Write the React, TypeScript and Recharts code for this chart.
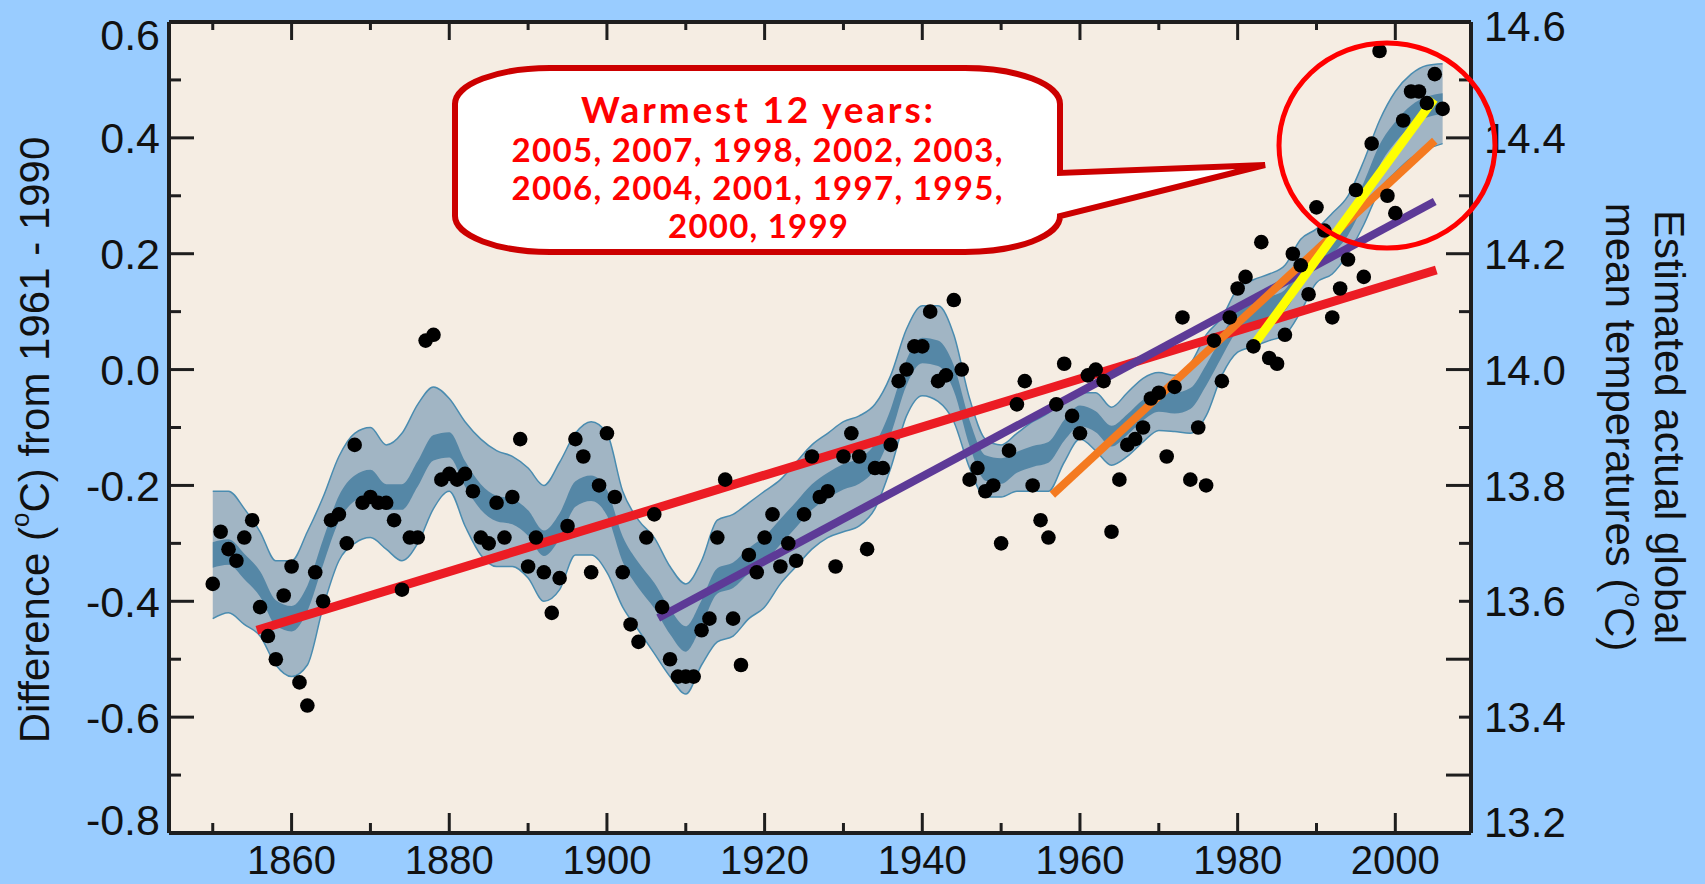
import React from "react";
import { ComposedChart, XAxis, YAxis, CartesianGrid, Scatter, Line, Area } from "recharts";

const WIDTH = 1705;
const HEIGHT = 884;
const PLOT_LEFT = 169;
const PLOT_RIGHT = 1471;
const PLOT_TOP = 22;
const PLOT_BOTTOM = 833;

// annual global mean anomalies, one value per year from 1850
const FIRST_YEAR = 1850;
const anomalies = [
  -0.37, -0.28, -0.31, -0.33, -0.29, -0.26, -0.41, -0.46, -0.5, -0.39,
  -0.34, -0.54, -0.58, -0.35, -0.4, -0.26, -0.25, -0.3, -0.13, -0.23,
  -0.22, -0.23, -0.23, -0.26, -0.38, -0.29, -0.29, 0.05, 0.06, -0.19,
  -0.18, -0.19, -0.18, -0.21, -0.29, -0.3, -0.23, -0.29, -0.22, -0.12,
  -0.34, -0.29, -0.35, -0.42, -0.36, -0.27, -0.12, -0.15, -0.35, -0.2,
  -0.11, -0.22, -0.35, -0.44, -0.47, -0.29, -0.25, -0.41, -0.5, -0.53,
  -0.53, -0.53, -0.45, -0.43, -0.29, -0.19, -0.43, -0.51, -0.32, -0.35,
  -0.29, -0.25, -0.34, -0.3, -0.33, -0.25, -0.15, -0.22, -0.21, -0.34,
  -0.15, -0.11, -0.15, -0.31, -0.17, -0.17, -0.13, -0.02, 0.0, 0.04,
  0.04, 0.1, -0.02, -0.01, 0.12, 0.0, -0.19, -0.17, -0.21, -0.2,
  -0.3, -0.14, -0.06, -0.02, -0.2, -0.26, -0.29, -0.06, 0.01, -0.08,
  -0.11, -0.01, 0.0, -0.02, -0.28, -0.19, -0.13, -0.12, -0.1, -0.05,
  -0.04, -0.15, -0.03, 0.09, -0.19, -0.1, -0.2, 0.05, -0.02, 0.09,
  0.14, 0.16, 0.04, 0.22, 0.02, 0.01, 0.06, 0.2, 0.18, 0.13,
  0.28, 0.24, 0.09, 0.14, 0.19, 0.31, 0.16, 0.39, 0.55, 0.3,
  0.27, 0.43, 0.48, 0.48, 0.46, 0.51, 0.45,
];

// decadal smoothing envelopes, read every 2 years from 1850
const BAND_FIRST_YEAR = 1850;
const BAND_STEP = 2;
const outerHigh = [
  -0.21, -0.21, -0.24, -0.28, -0.33, -0.33, -0.28, -0.22, -0.15, -0.11,
  -0.1, -0.13, -0.11, -0.06, -0.03, -0.05, -0.09, -0.12, -0.14, -0.15,
  -0.17, -0.2, -0.16, -0.11, -0.09, -0.11, -0.21, -0.26, -0.29, -0.34,
  -0.37, -0.33, -0.26, -0.25, -0.23, -0.21, -0.19, -0.16, -0.13, -0.11,
  -0.09, -0.08, -0.06, -0.01, 0.07, 0.11, 0.11, 0.06, -0.05, -0.12,
  -0.13, -0.11, -0.09, -0.075, -0.05, -0.04, -0.04, -0.065, -0.04, -0.015,
  -0.005, -0.01, 0.01, 0.06, 0.09, 0.14, 0.155, 0.165, 0.18, 0.225,
  0.243, 0.27, 0.3, 0.36, 0.43, 0.48, 0.51, 0.525, 0.528,
];
const outerLow = [
  -0.43, -0.42, -0.44, -0.46, -0.51, -0.53, -0.51, -0.41, -0.33, -0.3,
  -0.29, -0.31, -0.33, -0.3, -0.24, -0.21, -0.27, -0.32, -0.34, -0.34,
  -0.36, -0.4, -0.38, -0.32, -0.32, -0.35, -0.41, -0.45, -0.49, -0.53,
  -0.56, -0.51, -0.47, -0.46, -0.43, -0.41, -0.37, -0.34, -0.31, -0.29,
  -0.28, -0.27, -0.24, -0.17, -0.08, -0.045, -0.055, -0.09, -0.17, -0.22,
  -0.22, -0.21, -0.21, -0.21, -0.16, -0.12, -0.14, -0.165, -0.15, -0.125,
  -0.105, -0.107, -0.11, -0.08, -0.01, 0.03, 0.04, 0.05, 0.06, 0.1,
  0.15, 0.165, 0.2, 0.25, 0.31, 0.34, 0.365, 0.38, 0.39,
];
const innerHigh = [
  -0.298, -0.293, -0.318, -0.348, -0.398, -0.408, -0.373, -0.293, -0.218, -0.183,
  -0.173, -0.198, -0.198, -0.158, -0.113, -0.108, -0.158, -0.198, -0.218, -0.223,
  -0.243, -0.278, -0.248, -0.193, -0.183, -0.208, -0.288, -0.333, -0.368, -0.413,
  -0.443, -0.398, -0.343, -0.333, -0.308, -0.288, -0.258, -0.228, -0.198, -0.178,
  -0.163, -0.153, -0.128, -0.068, 0.017, 0.055, 0.05, 0.007, -0.088, -0.148,
  -0.153, -0.142, -0.132, -0.125, -0.087, -0.062, -0.072, -0.097, -0.077, -0.052,
  -0.037, -0.04, -0.032, 0.008, 0.058, 0.103, 0.116, 0.126, 0.138, 0.181,
  0.215, 0.236, 0.268, 0.323, 0.388, 0.428, 0.456, 0.471, 0.477,
];
const innerLow = [
  -0.342, -0.337, -0.362, -0.392, -0.442, -0.452, -0.417, -0.337, -0.262, -0.227,
  -0.217, -0.242, -0.242, -0.202, -0.157, -0.152, -0.202, -0.242, -0.262, -0.267,
  -0.287, -0.322, -0.292, -0.237, -0.227, -0.252, -0.332, -0.377, -0.412, -0.457,
  -0.487, -0.442, -0.387, -0.377, -0.352, -0.332, -0.302, -0.272, -0.242, -0.222,
  -0.207, -0.197, -0.172, -0.112, -0.027, 0.011, 0.006, -0.037, -0.132, -0.192,
  -0.197, -0.178, -0.168, -0.161, -0.123, -0.098, -0.108, -0.133, -0.113, -0.088,
  -0.073, -0.076, -0.068, -0.028, 0.022, 0.067, 0.08, 0.09, 0.102, 0.145,
  0.179, 0.2, 0.232, 0.287, 0.352, 0.392, 0.42, 0.435, 0.441,
];

// linear trends: 150, 100, 50 and 25 years
const trendColors = ["#ec1c24", "#5d3a97", "#f47a20", "#ffff00"];
const trendWidths = [9, 8, 8, 9];
const trendStartYear = [1855.6, 1906.5, 1956.5, 1981.6];
const trendEndYear = [2005.2, 2005.0, 2005.0, 2004.9];
const trendStartValue = [-0.45, -0.429, -0.216, 0.034];
const trendEndValue = [0.172, 0.29, 0.395, 0.467];

const xTicks = [1850, 1860, 1870, 1880, 1890, 1900, 1910, 1920, 1930, 1940, 1950, 1960, 1970, 1980, 1990, 2000];
const leftTicks = [-0.8, -0.7, -0.6, -0.5, -0.4, -0.3, -0.2, -0.1, 0, 0.1, 0.2, 0.3, 0.4, 0.5, 0.6];
const rightTicks = [13.2, 13.3, 13.4, 13.5, 13.6, 13.7, 13.8, 13.9, 14.0, 14.1, 14.2, 14.3, 14.4, 14.5, 14.6];
const rightLongTicks = [13.3, 13.5, 13.8, 14.0, 14.2, 14.4];

const warmestTitle = "Warmest 12 years:";
const warmestLines = ["2005, 2007, 1998, 2002, 2003,", "2006, 2004, 2001, 1997, 1995,", "2000, 1999"];

const anomalyRows = anomalies.map((v, i) => ({ year: FIRST_YEAR + i, v }));
const bandRows = outerHigh.map((hi, i) => ({
  year: BAND_FIRST_YEAR + i * BAND_STEP,
  outer: [outerLow[i], hi],
  inner: [innerLow[i], innerHigh[i]],
}));
const trendRows = trendColors.map((_, i) => [
  { year: trendStartYear[i], v: trendStartValue[i] },
  { year: trendEndYear[i], v: trendEndValue[i] },
]);

const AXIS = "#1e1e1e";
const TICK_FONT = "'Liberation Sans', Arial, sans-serif";

const isEven = (v: number) => Math.round(v * 10) % 2 === 0;

const LeftTick = (props: any) => {
  const { y, payload } = props;
  const v = payload.value;
  const major = isEven(v);
  const ly = Math.min(Math.max(y, 35), 820);
  return (
    <g>
      <line x1={PLOT_LEFT} x2={PLOT_LEFT + (major ? 25 : 12)} y1={y} y2={y} stroke={AXIS} strokeWidth={3} />
      {major && (
        <text x={160} y={ly} dy="0.36em" textAnchor="end" fontSize={43} fontFamily={TICK_FONT} fill="#111">
          {v.toFixed(1)}
        </text>
      )}
    </g>
  );
};

const RightTick = (props: any) => {
  const { y, payload } = props;
  const v = payload.value;
  const long = rightLongTicks.some((t) => Math.abs(t - v) < 1e-6);
  const edge = Math.abs(v - 13.2) < 1e-6 || Math.abs(v - 14.6) < 1e-6;
  const ly = Math.min(Math.max(y, 26), 822);
  return (
    <g>
      {!edge && (
        <line x1={PLOT_RIGHT} x2={PLOT_RIGHT - (long ? 25 : 12)} y1={y} y2={y} stroke={AXIS} strokeWidth={3} />
      )}
      {isEven(v) && (
        <text x={1484} y={ly} dy="0.36em" textAnchor="start" fontSize={42} fontFamily={TICK_FONT} fill="#111">
          {v.toFixed(1)}
        </text>
      )}
    </g>
  );
};

const BottomTick = (props: any) => {
  const { x, payload } = props;
  const major = payload.value % 20 === 0;
  return (
    <g>
      <line x1={x} x2={x} y1={PLOT_BOTTOM} y2={PLOT_BOTTOM - (major ? 20 : 10)} stroke={AXIS} strokeWidth={3} />
      {major && (
        <text x={x} y={874} textAnchor="middle" fontSize={40} fontFamily={TICK_FONT} fill="#111">
          {payload.value}
        </text>
      )}
    </g>
  );
};

const TopTick = (props: any) => {
  const { x, payload } = props;
  const major = payload.value % 20 === 0;
  return <line x1={x} x2={x} y1={PLOT_TOP} y2={PLOT_TOP + (major ? 18 : 8)} stroke={AXIS} strokeWidth={3} />;
};

const Dot = (props: any) => <circle cx={props.cx} cy={props.cy} r={7.3} fill="#000" />;

// callout bubble outline
const BL = 455, BR = 1060, BT = 68, BB = 252, RX = 95, RY = 36;
const bubblePath = `M ${BL + RX} ${BT} H ${BR - RX} A ${RX} ${RY} 0 0 1 ${BR} ${BT + RY} V 173 L 1265 165 L ${BR} ${BB - RY} A ${RX} ${RY} 0 0 1 ${BR - RX} ${BB} H ${BL + RX} A ${RX} ${RY} 0 0 1 ${BL} ${BB - RY} V ${BT + RY} A ${RX} ${RY} 0 0 1 ${BL + RX} ${BT} Z`;

export default function App() {
  return (
    <div style={{ position: "absolute", left: 0, top: 0, width: WIDTH, height: HEIGHT, background: "#99ccff", overflow: "hidden" }}>
      <ComposedChart
        width={WIDTH}
        height={HEIGHT}
        margin={{ top: PLOT_TOP - 10, right: WIDTH - PLOT_RIGHT - 60, bottom: HEIGHT - PLOT_BOTTOM - 30, left: PLOT_LEFT - 60 }}
      >
        <CartesianGrid fill="#f5ede3" horizontal={false} vertical={false} />
        <XAxis
          dataKey="year"
          type="number"
          domain={[1844.45, 2009.6]}
          ticks={xTicks}
          interval={0}
          height={30}
          allowDataOverflow
          axisLine={{ stroke: AXIS, strokeWidth: 4 }}
          tickLine={false}
          tick={<BottomTick />}
        />
        <XAxis
          xAxisId="top"
          orientation="top"
          dataKey="year"
          type="number"
          domain={[1844.45, 2009.6]}
          ticks={xTicks}
          interval={0}
          height={10}
          allowDataOverflow
          axisLine={{ stroke: AXIS, strokeWidth: 4 }}
          tickLine={false}
          tick={<TopTick />}
        />
        <YAxis
          type="number"
          domain={[-0.8, 0.6]}
          ticks={leftTicks}
          interval={0}
          width={60}
          allowDataOverflow
          axisLine={{ stroke: AXIS, strokeWidth: 4 }}
          tickLine={false}
          tick={<LeftTick />}
        />
        <YAxis
          yAxisId="right"
          orientation="right"
          type="number"
          domain={[13.2, 14.6]}
          ticks={rightTicks}
          interval={0}
          width={60}
          allowDataOverflow
          axisLine={{ stroke: AXIS, strokeWidth: 4 }}
          tickLine={false}
          tick={<RightTick />}
        />
        <Area
          data={bandRows}
          dataKey="outer"
          type="monotone"
          fill="#a1b5c4"
          fillOpacity={1}
          stroke="#4a8cb0"
          strokeWidth={1.5}
          isAnimationActive={false}
          activeDot={false}
        />
        <Area
          data={bandRows}
          dataKey="inner"
          type="monotone"
          fill="#5587a6"
          fillOpacity={1}
          stroke="none"
          isAnimationActive={false}
          activeDot={false}
        />
        <Scatter data={anomalyRows} dataKey="v" shape={<Dot />} isAnimationActive={false} />
        {trendRows.map((rows, i) => (
          <Line
            key={i}
            data={rows}
            dataKey="v"
            type="linear"
            stroke={trendColors[i]}
            strokeWidth={trendWidths[i]}
            dot={false}
            activeDot={false}
            isAnimationActive={false}
          />
        ))}
      </ComposedChart>
      <svg width={WIDTH} height={HEIGHT} style={{ position: "absolute", left: 0, top: 0, pointerEvents: "none" }}>
        <text
          transform="translate(34 440) rotate(-90)"
          textAnchor="middle"
          dominantBaseline="central"
          fontSize={42}
          fontFamily={TICK_FONT}
          fill="#111"
        >
          Difference (<tspan fontSize={26} dy={-14}>o</tspan>
          <tspan dy={14}>C) from 1961 - 1990</tspan>
        </text>
        <text
          transform="translate(1669 427) rotate(90)"
          textAnchor="middle"
          dominantBaseline="central"
          fontSize={42}
          fontFamily={TICK_FONT}
          fill="#111"
        >
          Estimated actual global
        </text>
        <text
          transform="translate(1620 427) rotate(90)"
          textAnchor="middle"
          dominantBaseline="central"
          fontSize={42}
          fontFamily={TICK_FONT}
          fill="#111"
        >
          mean temperatures (<tspan fontSize={26} dy={-14}>o</tspan>
          <tspan dy={14}>C)</tspan>
        </text>
        <path d={bubblePath} fill="#ffffff" stroke="#cc0000" strokeWidth={6} strokeLinejoin="miter" />
        <g fontFamily="Lato, 'Open Sans', sans-serif" fontWeight={700} fill="#ff0000" textAnchor="middle">
          <text x={757} y={123} fontSize={37} textLength={352} lengthAdjust="spacing">
            {warmestTitle}
          </text>
          <text x={757} y={162} fontSize={33} textLength={491} lengthAdjust="spacing">
            {warmestLines[0]}
          </text>
          <text x={757} y={200} fontSize={33} textLength={491} lengthAdjust="spacing">
            {warmestLines[1]}
          </text>
          <text x={758} y={238} fontSize={33} textLength={180} lengthAdjust="spacing">
            {warmestLines[2]}
          </text>
        </g>
        <ellipse cx={1387} cy={145.5} rx={108} ry={102.5} fill="none" stroke="#ff0000" strokeWidth={5} />
      </svg>
    </div>
  );
}
